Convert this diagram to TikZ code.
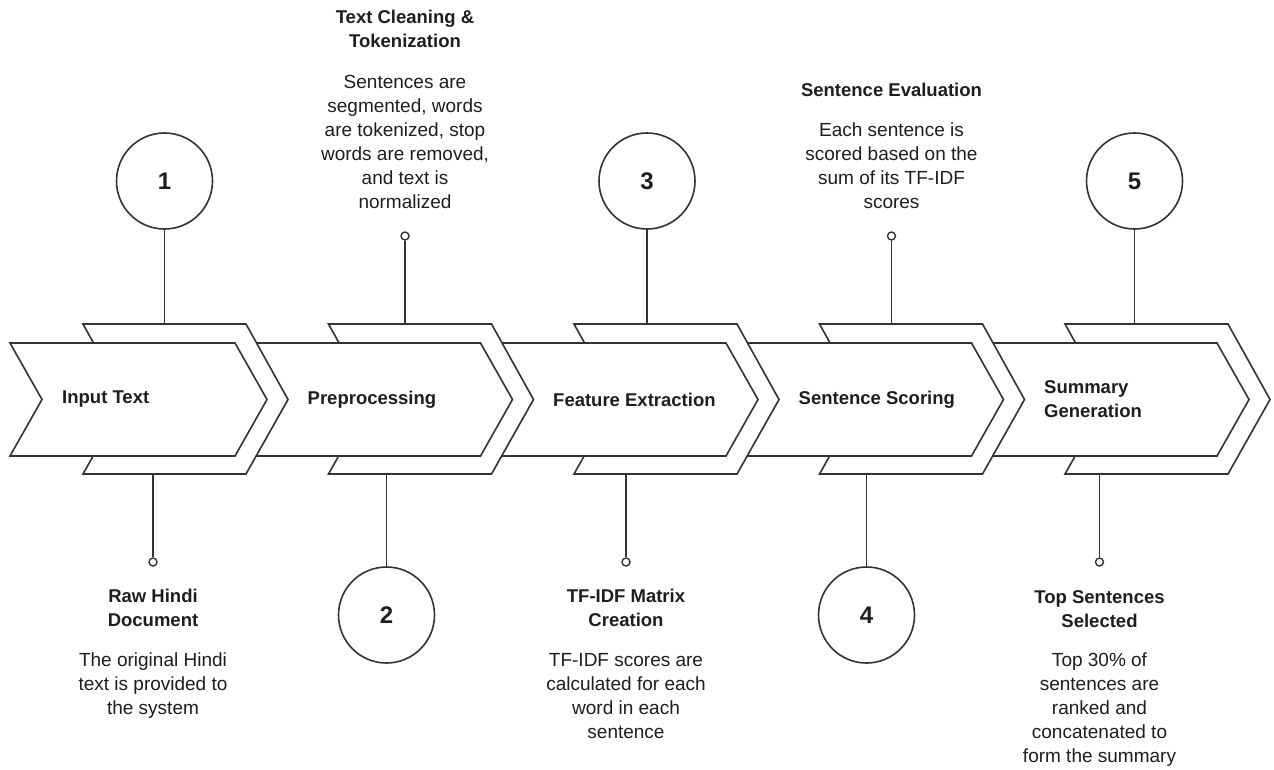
\documentclass[tikz,border=0pt]{standalone}
\usepackage{fontspec}
\setmainfont{Liberation Sans}
\definecolor{ln}{HTML}{333333}
\definecolor{tx}{HTML}{1E1E1E}
\tikzset{
 shp/.style={draw=ln, fill=white, line width=1.6pt, line join=miter},
 num/.style={circle, draw=ln, fill=white, line width=1.6pt, minimum size=96pt, inner sep=0pt, font=\fontsize{24}{28}\selectfont\bfseries, text=tx},
 dotc/.style={circle, draw=ln, fill=white, line width=1.4pt, minimum size=8pt, inner sep=0pt},
 conn/.style={draw=ln, line width=1.6pt},
 ttl/.style={anchor=base, align=center, inner sep=0pt, text=tx, font=\fontsize{18.5}{24}\selectfont\bfseries},
 dsc/.style={anchor=base, align=center, inner sep=0pt, text=tx, font=\fontsize{19}{24}\selectfont},
 lbl/.style={anchor=west, align=left, inner sep=0pt, text=tx, font=\fontsize{18.5}{24}\selectfont\bfseries},
}
\begin{document}
\begin{tikzpicture}[x=1pt,y=-1pt]
\useasboundingbox (0,0) rectangle (1274,769);
\fill[white] (0,0) rectangle (1274,769);
% chevrons, drawn right to left so each outer shape covers the next inner one
\foreach \i in {4,3,2,1,0}{
 \pgfmathsetmacro\o{\i*245.5}
 \path[shp] ({\o+83},324) -- ({\o+246},324) -- ({\o+288},399.5) -- ({\o+246},474) -- ({\o+83},474) -- ({\o+125},399.5) -- cycle;
 \path[shp] ({\o+10},343) -- ({\o+235},343) -- ({\o+267},399.5) -- ({\o+235},456) -- ({\o+10},456) -- ({\o+42},399.5) -- cycle;
}
% stage labels
\node[lbl] (s1) at (62,399.5) {Input Text};
\node[lbl] (s2) at (307.5,399.5) {Preprocessing};
\node[lbl] (s3) at (553,399.5) {Feature Extraction};
\node[lbl] (s4) at (798.5,399.5) {Sentence Scoring};
\node[lbl] (s5) at (1044,399.5) {Summary\\Generation};
% attachment points
\coordinate (t1) at (164.5,324);
\coordinate (t2) at (405,324);
\coordinate (t3) at (647,324);
\coordinate (t4) at (891.5,324);
\coordinate (t5) at (1134.5,324);
\coordinate (b1) at (153,474);
\coordinate (b2) at (386.5,474);
\coordinate (b3) at (626,474);
\coordinate (b4) at (866.5,474);
\coordinate (b5) at (1099.5,474);
% numbered circles
\node[num] (c1) at (164.5,181) {1};
\node[num] (c2) at (386.5,615) {2};
\node[num] (c3) at (647,181) {3};
\node[num] (c4) at (866.5,615) {4};
\node[num] (c5) at (1134.5,181) {5};
% small end circles
\node[dotc] (d1) at (153,562) {};
\node[dotc] (d2) at (405,236) {};
\node[dotc] (d3) at (626,562) {};
\node[dotc] (d4) at (891.5,236) {};
\node[dotc] (d5) at (1099.5,562) {};
% connectors
\draw[conn] (c1) -- (t1);
\draw[conn] (d2) -- (t2);
\draw[conn] (c3) -- (t3);
\draw[conn] (d4) -- (t4);
\draw[conn] (c5) -- (t5);
\draw[conn] (b1) -- (d1);
\draw[conn] (b2) -- (c2);
\draw[conn] (b3) -- (d3);
\draw[conn] (b4) -- (c4);
\draw[conn] (b5) -- (d5);
% texts (base anchor = baseline of last line)
\node[ttl] (h1) at (153,626) {Raw Hindi\\Document};
\node[dsc] (p1) at (153,714) {The original Hindi\\text is provided to\\the system};
\node[ttl] (h2) at (405,47) {Text Cleaning \&\\Tokenization};
\node[dsc] (p2) at (405,208) {Sentences are\\segmented, words\\are tokenized, stop\\words are removed,\\and text is\\normalized};
\node[ttl] (h3) at (626,626) {TF-IDF Matrix\\Creation};
\node[dsc] (p3) at (626,738) {TF-IDF scores are\\calculated for each\\word in each\\sentence};
\node[ttl] (h4) at (891.5,96) {Sentence Evaluation};
\node[dsc] (p4) at (891.5,208) {Each sentence is\\scored based on the\\sum of its TF-IDF\\scores};
\node[ttl] (h5) at (1099.5,627) {Top Sentences\\Selected};
\node[dsc] (p5) at (1099.5,762) {Top 30\% of\\sentences are\\ranked and\\concatenated to\\form the summary};
\end{tikzpicture}
\end{document}
